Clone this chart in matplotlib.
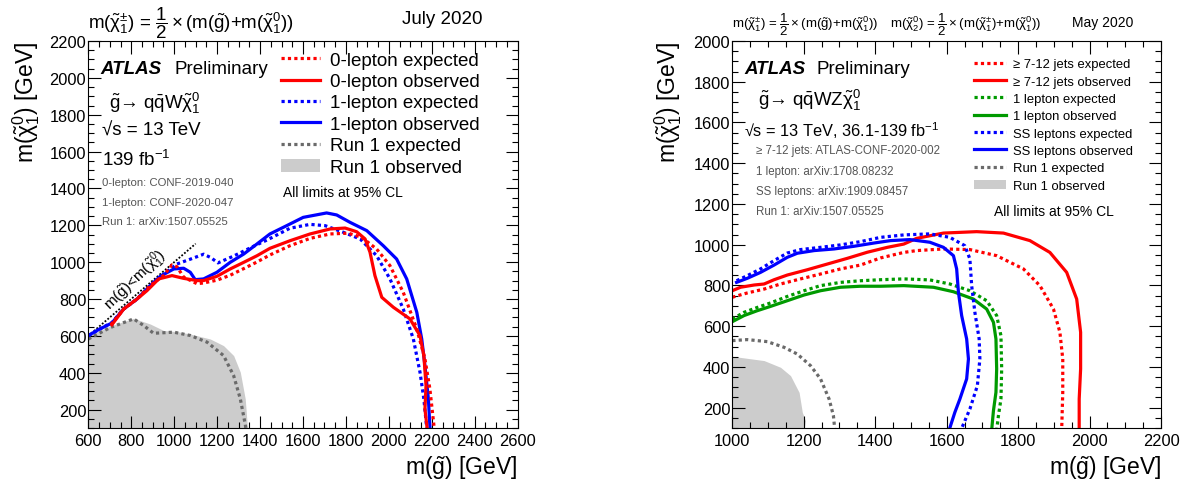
import matplotlib
matplotlib.use('Agg')
import matplotlib.pyplot as plt
from matplotlib.lines import Line2D
from matplotlib.patches import Patch
from matplotlib.ticker import MultipleLocator

plt.rcParams['font.family'] = ['Liberation Sans', 'DejaVu Sans']
plt.rcParams['mathtext.fontset'] = 'custom'
plt.rcParams['mathtext.rm'] = 'Liberation Sans'
plt.rcParams['mathtext.it'] = 'Liberation Sans:italic'
plt.rcParams['mathtext.bf'] = 'Liberation Sans:bold'
plt.rcParams['mathtext.default'] = 'regular'

# ---------------- left panel: gluino -> qqW chi1 ----------------
l_lep0_exp_x = [705, 765, 827, 889, 951, 990, 1013, 1044, 1106, 1137, 1199, 1261, 1324, 1386, 1446,
                1539, 1633, 1726, 1811, 1873, 1943, 2005, 2067, 2130, 2168, 2191, 2212]
l_lep0_exp_y = [660, 746, 800, 873, 928, 985, 975, 919, 883, 887, 902, 929, 965, 1001, 1039,
                1089, 1129, 1153, 1157, 1135, 1071, 981, 836, 637, 475, 312, 90]
l_lep0_obs_x = [710, 765, 827, 873, 928, 990, 1044, 1106, 1137, 1199, 1261, 1324, 1386, 1446, 1539,
                1633, 1726, 1796, 1850, 1889, 1912, 1935, 1967, 2021, 2098, 2145, 2163, 2173, 2168, 2179]
l_lep0_obs_y = [660, 746, 800, 845, 909, 927, 912, 900, 900, 923, 963, 999, 1035, 1075, 1116,
                1153, 1180, 1185, 1165, 1126, 1054, 927, 809, 755, 692, 601, 492, 330, 203, 90]
l_lep1_exp_x = [600, 650, 710, 765, 827, 889, 951, 1013, 1075, 1137, 1170, 1204, 1275, 1364, 1436,
                1539, 1633, 1703, 1788, 1866, 1943, 2005, 2067, 2114, 2145, 2163, 2177]
l_lep1_exp_y = [600, 635, 672, 746, 800, 873, 935, 990, 1016, 1043, 1025, 996, 1032, 1083, 1122,
                1184, 1205, 1198, 1162, 1126, 1035, 909, 746, 583, 402, 257, 90]
l_lep1_obs_x = [600, 650, 710, 765, 827, 889, 935, 998, 1044, 1075, 1098, 1137, 1199, 1261, 1324,
                1386, 1446, 1524, 1601, 1710, 1757, 1819, 1897, 1974, 2036, 2083, 2130, 2153, 2168,
                2184, 2192]
l_lep1_obs_y = [602, 635, 670, 746, 800, 873, 923, 963, 967, 945, 905, 909, 945, 999, 1044,
                1099, 1153, 1198, 1243, 1267, 1256, 1216, 1171, 1089, 1017, 909, 728, 583, 438,
                257, 90]
l_run1_exp_x = [600, 702, 811, 858, 904, 998, 1075, 1153, 1230, 1277, 1308, 1331, 1335]
l_run1_exp_y = [583, 645, 692, 656, 614, 620, 602, 566, 493, 384, 258, 120, 90]
l_run1_obs_x = [600, 702, 811, 889, 951, 1013, 1075, 1168, 1230, 1277, 1308, 1331, 1342]
l_run1_obs_y = [599, 654, 695, 664, 629, 623, 610, 583, 547, 493, 403, 258, 90]
l_diag_x = [600, 1100]
l_diag_y = [600, 1100]

# ---------------- right panel: gluino -> qqWZ chi1 ----------------
r_jets_exp_x = [1000, 1042, 1089, 1135, 1191, 1247, 1303, 1359, 1415, 1480, 1516, 1591, 1665, 1740,
                1815, 1861, 1899, 1917, 1925, 1925, 1922]
r_jets_exp_y = [742, 763, 782, 807, 832, 856, 881, 900, 935, 962, 971, 979, 976, 946,
                881, 799, 684, 570, 439, 275, 90]
r_jets_obs_x = [1000, 1023, 1061, 1089, 1117, 1154, 1210, 1266, 1322, 1378, 1434, 1480, 1516, 1591,
                1684, 1759, 1833, 1889, 1936, 1964, 1975, 1975, 1971, 1971]
r_jets_obs_y = [774, 791, 802, 807, 828, 851, 877, 905, 933, 963, 987, 1003, 1031, 1057,
                1064, 1057, 1020, 962, 864, 733, 570, 390, 242, 90]
r_lep1_exp_x = [1000, 1033, 1070, 1107, 1154, 1201, 1247, 1303, 1359, 1415, 1480, 1553, 1609, 1665,
                1712, 1740, 1752, 1754, 1752, 1745, 1740]
r_lep1_exp_y = [635, 668, 692, 714, 746, 774, 799, 815, 823, 828, 832, 827, 807, 774,
                725, 652, 553, 390, 242, 161, 90]
r_lep1_obs_x = [1000, 1033, 1070, 1107, 1154, 1201, 1247, 1303, 1359, 1415, 1480, 1563, 1619, 1675,
                1712, 1731, 1738, 1740, 1738, 1731, 1726]
r_lep1_obs_y = [622, 652, 676, 697, 725, 753, 774, 791, 796, 796, 799, 791, 769, 733,
                684, 619, 537, 390, 275, 185, 90]
r_ss_exp_x = [1012, 1042, 1079, 1117, 1154, 1191, 1247, 1303, 1359, 1415, 1480, 1553, 1609, 1651,
              1665, 1670, 1679, 1691, 1693, 1686, 1665, 1640]
r_ss_exp_y = [823, 848, 881, 922, 959, 976, 987, 999, 1015, 1036, 1048, 1053, 1036, 995,
              930, 799, 668, 537, 439, 308, 193, 90]
r_ss_obs_x = [1012, 1042, 1079, 1117, 1154, 1182, 1229, 1285, 1340, 1396, 1443, 1497, 1553, 1591,
              1619, 1628, 1633, 1642, 1656, 1661, 1656, 1637, 1623, 1607]
r_ss_obs_y = [815, 835, 864, 900, 938, 958, 971, 979, 992, 1008, 1020, 1025, 1012, 987,
              946, 881, 766, 652, 537, 439, 341, 242, 177, 90]
r_run1_exp_x = [1000, 1042, 1098, 1145, 1182, 1219, 1247, 1271, 1283, 1287]
r_run1_exp_y = [529, 534, 524, 496, 463, 406, 341, 242, 161, 90]
r_run1_obs_x = [1000, 1042, 1089, 1135, 1163, 1187, 1196, 1205, 1201]
r_run1_obs_y = [452, 442, 431, 398, 357, 275, 177, 136, 90]

left_labels = ['0-lepton expected', '0-lepton observed', '1-lepton expected',
               '1-lepton observed', 'Run 1 expected', 'Run 1 observed']
right_labels = ['≥ 7-12 jets expected', '≥ 7-12 jets observed', '1 lepton expected',
                '1 lepton observed', 'SS leptons expected', 'SS leptons observed',
                'Run 1 expected', 'Run 1 observed']

RED, BLUE, GREEN, GREY, FILL = '#ff0000', '#0000ff', '#009a00', '#6a6a6a', '#cccccc'
LW = 2.3
DOT = (0, (1, 1))

W, H = 1197, 489
fig = plt.figure(figsize=(W / 100, H / 100), dpi=100)


def T(px, py, s, **kw):
    kw.setdefault('va', 'center')
    return fig.text(px / W, 1 - py / H, s, **kw)


def frame(ax, xlim, ylim, xticks, yticks):
    ax.set_xlim(*xlim)
    ax.set_ylim(*ylim)
    ax.set_xticks(xticks)
    ax.set_yticks(yticks)
    ax.xaxis.set_minor_locator(MultipleLocator(50))
    ax.yaxis.set_minor_locator(MultipleLocator(50))
    ax.tick_params(which='both', direction='in', top=True, right=True, width=0.8, labelsize=11.8)
    ax.tick_params(which='major', length=9)
    ax.tick_params(which='minor', length=4.5)
    ax.tick_params(axis='x', pad=3.5)
    ax.tick_params(axis='y', pad=1.5)
    for s in ax.spines.values():
        s.set_linewidth(0.8)


def line(ax, x, y, color, dotted):
    ax.plot(x, y, color=color, lw=LW, ls=DOT if dotted else '-')


def handle(color, dotted):
    return Line2D([], [], color=color, lw=LW, ls=DOT if dotted else '-')


# ---- left axes ----
ax1 = fig.add_axes([88.3 / W, 1 - 429 / H, (517.7 - 88.3) / W, (429 - 42) / H])
frame(ax1, (600, 2600), (100, 2200), range(600, 2601, 200), range(200, 2201, 200))
ax1.fill_between(l_run1_obs_x, l_run1_obs_y, 0, color=FILL, lw=0)
line(ax1, l_run1_exp_x, l_run1_exp_y, GREY, True)
ax1.plot(l_diag_x, l_diag_y, color='black', lw=1.3, ls=(0, (1, 1)))
ax1.text(820, 905, r'$m(\tilde{g})$<$m(\tilde{\chi}^{0}_{1})$', rotation=44, ha='center', va='center',
         rotation_mode='anchor', fontsize=11)
line(ax1, l_lep1_exp_x, l_lep1_exp_y, BLUE, True)
line(ax1, l_lep1_obs_x, l_lep1_obs_y, BLUE, False)
line(ax1, l_lep0_exp_x, l_lep0_exp_y, RED, True)
line(ax1, l_lep0_obs_x, l_lep0_obs_y, RED, False)

h1 = [handle(RED, True), handle(RED, False), handle(BLUE, True), handle(BLUE, False),
      handle(GREY, True), Patch(facecolor=FILL, edgecolor='none')]
fig.legend(h1, left_labels, loc='upper left', bbox_to_anchor=(281 / W, 1 - 52.5 / H), frameon=False,
           fontsize=13.5, handlelength=2.1, handletextpad=0.5, labelspacing=0.23,
           borderpad=0, borderaxespad=0)

T(88, 23, r'$m(\tilde{\chi}^{\pm}_{1})$ = $\dfrac{1}{2}\times(m(\tilde{g})$+$m(\tilde{\chi}^{0}_{1}))$',
  fontsize=13.5)
T(482, 20, 'July 2020', fontsize=13.5, ha='right')
T(100, 70, 'ATLAS', fontsize=13.5, fontweight='bold', fontstyle='italic')
T(174, 70, 'Preliminary', fontsize=13.5)
T(109, 103, r'$\tilde{g}$→ $q\bar{q}W\tilde{\chi}^{0}_{1}$', fontsize=13.5)
T(102, 131, '√s = 13 TeV', fontsize=13.5)
T(102, 160, r'139 fb$^{-1}$', fontsize=13.5)
T(102, 183, '0-lepton: CONF-2019-040', fontsize=8.2, color='#555555')
T(102, 203, '1-lepton: CONF-2020-047', fontsize=8.2, color='#555555')
T(102, 222, 'Run 1: arXiv:1507.05525', fontsize=8.2, color='#555555')
T(283, 193, 'All limits at 95% CL', fontsize=10)
T(517.7, 468, r'$m(\tilde{g})$ [GeV]', fontsize=16.5, ha='right')
T(26, 42, r'$m(\tilde{\chi}^{0}_{1})$ [GeV]', fontsize=16.5, rotation=90, ha='center', va='top')

# ---- right axes ----
ax2 = fig.add_axes([732.3 / W, 1 - 429 / H, (1161 - 732.3) / W, (429 - 42) / H])
frame(ax2, (1000, 2200), (100, 2000), range(1000, 2201, 200), range(200, 2001, 200))
ax2.fill_betweenx(r_run1_obs_y, 0, r_run1_obs_x, color=FILL, lw=0)
line(ax2, r_run1_exp_x, r_run1_exp_y, GREY, True)
line(ax2, r_lep1_exp_x, r_lep1_exp_y, GREEN, True)
line(ax2, r_lep1_obs_x, r_lep1_obs_y, GREEN, False)
line(ax2, r_jets_exp_x, r_jets_exp_y, RED, True)
line(ax2, r_jets_obs_x, r_jets_obs_y, RED, False)
line(ax2, r_ss_exp_x, r_ss_exp_y, BLUE, True)
line(ax2, r_ss_obs_x, r_ss_obs_y, BLUE, False)

h2 = [handle(RED, True), handle(RED, False), handle(GREEN, True), handle(GREEN, False),
      handle(BLUE, True), handle(BLUE, False), handle(GREY, True),
      Patch(facecolor=FILL, edgecolor='none')]
fig.legend(h2, right_labels, loc='upper left', bbox_to_anchor=(973.5 / W, 1 - 59 / H), frameon=False,
           fontsize=9.4, handlelength=2.5, handletextpad=0.5, labelspacing=0.4,
           borderpad=0, borderaxespad=0)

T(732, 25, r'$m(\tilde{\chi}^{\pm}_{1})$ = $\dfrac{1}{2}\times(m(\tilde{g})$+$m(\tilde{\chi}^{0}_{1}))$',
  fontsize=9.5)
T(890, 25, r'$m(\tilde{\chi}^{0}_{2})$ = $\dfrac{1}{2}\times(m(\tilde{\chi}^{\pm}_{1})$+$m(\tilde{\chi}^{0}_{1}))$',
  fontsize=9.5)
T(1133, 23, 'May 2020', fontsize=10, ha='right')
T(744, 70, 'ATLAS', fontsize=13.5, fontweight='bold', fontstyle='italic')
T(817, 70, 'Preliminary', fontsize=13.5)
T(758, 100, r'$\tilde{g}$→ $q\bar{q}WZ\tilde{\chi}^{0}_{1}$', fontsize=13.5)
T(744, 131, r'√s = 13 TeV, 36.1-139 fb$^{-1}$', fontsize=11.8)
T(755.5, 151, '≥ 7-12 jets: ATLAS-CONF-2020-002', fontsize=8.3, color='#555555')
T(755.5, 172, '1 lepton: arXiv:1708.08232', fontsize=8.3, color='#555555')
T(755.5, 192, 'SS leptons: arXiv:1909.08457', fontsize=8.3, color='#555555')
T(755.5, 212, 'Run 1: arXiv:1507.05525', fontsize=8.3, color='#555555')
T(994, 212, 'All limits at 95% CL', fontsize=10)
T(1161, 468, r'$m(\tilde{g})$ [GeV]', fontsize=16.5, ha='right')
T(668, 42, r'$m(\tilde{\chi}^{0}_{1})$ [GeV]', fontsize=16.5, rotation=90, ha='center', va='top')

fig.savefig('out.png', dpi=100)
